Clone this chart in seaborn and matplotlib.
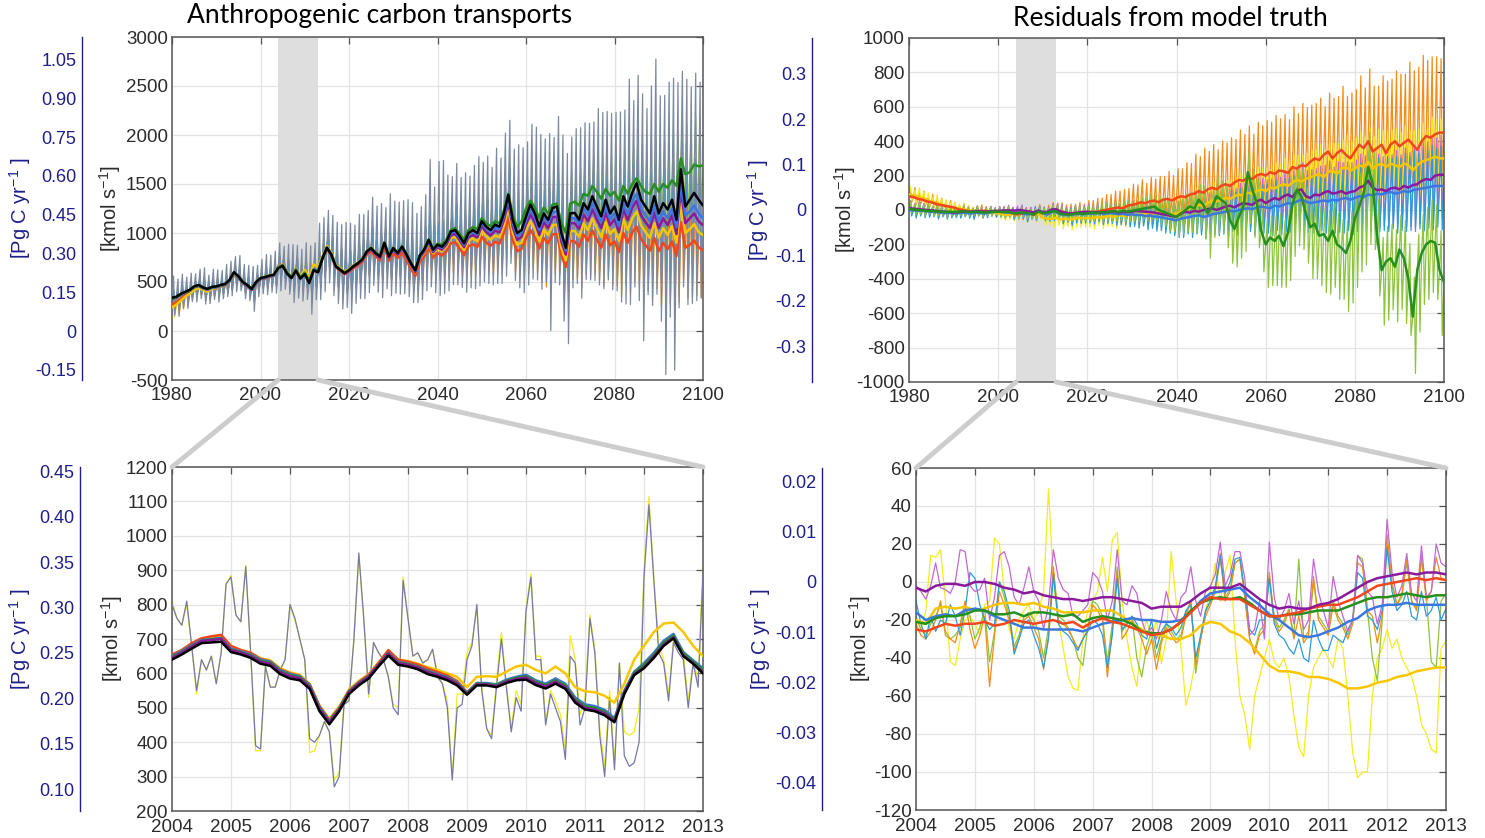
import numpy as np
import matplotlib
matplotlib.use("Agg")
import matplotlib.pyplot as plt
from matplotlib.patches import ConnectionPatch
import seaborn as sns

# ---------------------------------------------------------------- data
years = list(range(1980, 2101))          # annual values, 1980..2100

# Anthropogenic carbon transport [kmol s-1], 12-month smoothed
truth_s = [340, 350, 380, 400, 420, 455, 470, 445, 430, 450,
           455, 470, 480, 520, 600, 560, 500, 470, 430, 500,
           540, 550, 565, 575, 640, 665, 585, 540, 615, 535,
           580, 490, 620, 600, 740, 850, 780, 660, 625, 590,
           620, 660, 690, 730, 810, 845, 795, 760, 900, 760,
           845, 795, 860, 780, 690, 620, 770, 830, 930, 830,
           880, 860, 910, 1015, 1030, 965, 895, 1000, 1030, 1000,
           1120, 1065, 1030, 1085, 1065, 1200, 1390, 1135, 1000, 1030,
           1170, 1290, 1200, 1065, 1200, 1135, 1255, 1270, 1000, 850,
           1200, 1205, 1135, 1305, 1240, 1375, 1270, 1170, 1340, 1200,
           1270, 1135, 1375, 1270, 1410, 1510, 1340, 1270, 1200, 1375,
           1200, 1305, 1240, 1340, 1135, 1650, 1270, 1340, 1410, 1340,
           1280]
green_s = [330, 345, 375, 395, 415, 450, 468, 442, 428, 448,
           452, 468, 478, 518, 596, 558, 498, 468, 428, 498,
           538, 548, 562, 572, 648, 670, 595, 547, 627, 542,
           592, 505, 625, 610, 745, 850, 785, 665, 630, 595,
           625, 665, 695, 735, 815, 850, 800, 765, 905, 765,
           850, 800, 865, 785, 695, 625, 775, 835, 935, 840,
           890, 880, 930, 1030, 1050, 990, 930, 1030, 1060, 1040,
           1150, 1100, 1070, 1120, 1100, 1230, 1400, 1180, 1060, 1120,
           1250, 1330, 1260, 1150, 1260, 1200, 1290, 1300, 1100, 1000,
           1300, 1320, 1280, 1400, 1380, 1480, 1420, 1350, 1450, 1380,
           1420, 1330, 1480, 1400, 1500, 1560, 1480, 1420, 1400, 1500,
           1420, 1500, 1460, 1540, 1480, 1760, 1600, 1620, 1700, 1680,
           1690]
blue_s = [335, 345, 372, 392, 412, 448, 462, 438, 422, 442,
          448, 462, 472, 512, 590, 552, 492, 462, 422, 492,
          532, 545, 560, 570, 650, 672, 598, 548, 628, 544,
          596, 510, 630, 615, 745, 852, 785, 662, 628, 592,
          620, 660, 690, 728, 808, 842, 792, 756, 895, 756,
          838, 790, 852, 772, 682, 612, 760, 822, 920, 820,
          872, 850, 900, 1000, 1015, 950, 880, 985, 1010, 985,
          1100, 1045, 1010, 1060, 1040, 1170, 1350, 1100, 970, 1000,
          1130, 1240, 1160, 1030, 1160, 1100, 1210, 1220, 960, 820,
          1150, 1150, 1090, 1250, 1180, 1300, 1200, 1110, 1270, 1140,
          1200, 1070, 1300, 1190, 1320, 1400, 1250, 1180, 1120, 1280,
          1120, 1220, 1150, 1250, 1060, 1520, 1180, 1220, 1280, 1200,
          1150]
purple_s = [330, 342, 370, 390, 410, 445, 460, 436, 420, 440,
            446, 460, 470, 510, 588, 550, 490, 460, 420, 490,
            530, 542, 558, 568, 645, 668, 592, 545, 625, 540,
            588, 500, 618, 603, 742, 848, 780, 658, 622, 588,
            615, 655, 685, 722, 800, 835, 785, 748, 885, 748,
            830, 780, 842, 762, 672, 602, 748, 810, 905, 805,
            855, 830, 880, 975, 990, 925, 855, 955, 980, 955,
            1070, 1010, 975, 1025, 1005, 1130, 1310, 1060, 930, 960,
            1090, 1190, 1110, 980, 1110, 1050, 1160, 1165, 910, 780,
            1100, 1100, 1040, 1190, 1120, 1240, 1140, 1050, 1210, 1080,
            1140, 1010, 1240, 1130, 1260, 1330, 1180, 1110, 1050, 1210,
            1050, 1150, 1080, 1180, 990, 1440, 1100, 1150, 1200, 1120,
            1080]
yellow_s = [240, 270, 310, 350, 380, 420, 440, 420, 400, 430,
            440, 455, 465, 505, 585, 550, 492, 465, 428, 498,
            540, 552, 568, 578, 652, 678, 603, 553, 636, 560,
            625, 548, 680, 650, 760, 868, 800, 675, 640, 605,
            632, 670, 700, 736, 815, 848, 796, 758, 895, 752,
            832, 782, 842, 760, 668, 598, 742, 800, 892, 792,
            840, 815, 860, 950, 960, 895, 825, 920, 945, 915,
            1025, 965, 930, 975, 955, 1075, 1250, 1005, 880, 905,
            1030, 1120, 1040, 915, 1040, 980, 1080, 1085, 845, 720,
            1020, 1020, 960, 1100, 1030, 1150, 1050, 960, 1110, 990,
            1040, 920, 1140, 1030, 1150, 1220, 1080, 1010, 950, 1100,
            950, 1050, 980, 1070, 900, 1300, 1000, 1040, 1090, 1010,
            980]
orange_s = [270, 290, 330, 365, 395, 430, 450, 428, 410, 436,
            442, 456, 466, 504, 582, 545, 486, 456, 416, 486,
            526, 538, 554, 565, 655, 680, 600, 550, 634, 545,
            594, 508, 622, 604, 738, 842, 775, 652, 615, 580,
            605, 642, 670, 705, 780, 812, 762, 724, 855, 718,
            795, 745, 802, 722, 632, 562, 705, 760, 848, 750,
            795, 770, 812, 895, 905, 842, 775, 865, 885, 858,
            960, 905, 870, 912, 892, 1000, 1160, 930, 815, 838,
            950, 1030, 955, 840, 950, 895, 985, 990, 770, 655,
            920, 915, 860, 985, 920, 1025, 935, 850, 985, 875,
            915, 805, 1000, 900, 1005, 1065, 940, 875, 820, 950,
            815, 900, 835, 915, 765, 1110, 850, 880, 925, 855,
            820]

# seasonal spike excursions of the monthly truth (above / below the smoothed value)
truth_up = [220, 180, 200, 150, 170, 130, 160, 200, 140, 180,
            170, 150, 200, 190, 160, 210, 180, 200, 230, 170,
            190, 230, 210, 240, 260, 200, 300, 340, 260, 300,
            320, 380, 280, 500, 420, 380, 400, 450, 460, 520,
            480, 420, 500, 460, 420, 520, 480, 540, 360, 640,
            480, 520, 470, 560, 620, 580, 500, 560, 820, 640,
            850, 880, 680, 560, 680, 600, 720, 580, 660, 780,
            600, 720, 640, 780, 700, 820, 760, 720, 900, 840,
            760, 820, 880, 940, 760, 880, 720, 920, 1000, 960,
            780, 860, 940, 820, 880, 760, 1000, 1060, 900, 1020,
            960, 1100, 880, 1300, 940, 1100, 1080, 1000, 1300, 1400,
            1200, 1100, 1300, 1240, 1400, 1000, 1300, 1150, 1220, 1200]
truth_down = [180, 200, 150, 170, 120, 160, 140, 170, 150, 130,
              160, 140, 130, 160, 200, 150, 170, 160, 230, 150,
              160, 180, 170, 190, 230, 240, 210, 250, 280, 230,
              260, 320, 300, 280, 340, 360, 420, 380, 400, 350,
              440, 380, 360, 400, 420, 380, 400, 420, 470, 400,
              460, 420, 480, 430, 400, 330, 450, 420, 480, 440,
              520, 480, 500, 540, 560, 520, 500, 560, 600, 540,
              620, 580, 560, 600, 580, 640, 700, 620, 560, 640,
              700, 760, 680, 640, 700, 1130, 760, 800, 900, 980,
              760, 720, 800, 780, 720, 860, 800, 740, 820, 780,
              860, 840, 1100, 1000, 960, 1200, 1440, 900, 940, 1000,
              1100, 1750, 1100, 1740, 900, 1200, 1000, 1060, 1100, 1000]
# seasonal excursions of the reconstructions
recon_up = [90, 70, 100, 60, 80, 60, 70, 90, 60, 80,
            80, 70, 90, 80, 70, 90, 80, 90, 100, 80,
            90, 100, 90, 110, 120, 90, 130, 150, 120, 130,
            140, 160, 120, 200, 180, 160, 170, 190, 200, 220,
            200, 180, 210, 200, 180, 220, 200, 230, 160, 240,
            200, 220, 200, 240, 260, 240, 210, 240, 300, 260,
            240, 260, 280, 240, 280, 250, 300, 240, 280, 320,
            250, 300, 270, 320, 290, 340, 310, 300, 360, 340,
            310, 340, 360, 380, 310, 360, 300, 380, 400, 390,
            320, 350, 380, 340, 360, 310, 400, 420, 370, 410,
            390, 440, 360, 500, 380, 440, 430, 400, 500, 450,
            560, 440, 500, 480, 540, 400, 500, 450, 480, 470]
recon_down = [100, 110, 90, 100, 70, 90, 80, 100, 90, 80,
              90, 80, 80, 90, 110, 90, 100, 90, 120, 90,
              90, 100, 100, 110, 130, 130, 120, 140, 150, 130,
              150, 180, 170, 160, 190, 200, 230, 210, 220, 200,
              240, 210, 200, 220, 230, 210, 220, 230, 260, 220,
              250, 230, 260, 240, 220, 190, 250, 230, 260, 240,
              280, 260, 270, 290, 300, 280, 270, 300, 320, 290,
              330, 310, 300, 320, 310, 340, 370, 330, 300, 340,
              370, 400, 360, 340, 500, 380, 400, 420, 460, 370,
              400, 380, 420, 410, 380, 450, 420, 390, 430, 410,
              450, 440, 520, 520, 500, 600, 640, 470, 490, 520,
              560, 700, 560, 700, 470, 600, 520, 540, 560, 520]

# Residuals from model truth [kmol s-1], 12-month smoothed
res_red = [80, 75, 65, 60, 50, 45, 35, 30, 25, 20,
           15, 5, 0, -5, -10, -10, -5, -5, -10, -10,
           -10, -8, -12, -18, -25, -22, -22, -21, -28, -8,
           -18, -12, -1, 1, -8, -15, -20, -18, -15, -20,
           -15, -10, -12, -5, 0, 5, 10, 15, 10, 25,
           30, 35, 45, 40, 50, 55, 45, 60, 65, 55,
           70, 80, 75, 90, 95, 110, 100, 120, 130, 120,
           140, 150, 140, 160, 175, 170, 190, 180, 200, 210,
           200, 220, 210, 230, 225, 215, 250, 240, 260, 255,
           280, 300, 290, 320, 340, 300, 330, 350, 320, 300,
           340, 380, 360, 400, 340, 360, 380, 330, 380, 400,
           370, 390, 410, 380, 350, 400, 430, 420, 440, 450,
           450]
res_yellow = [90, 85, 80, 70, 60, 50, 45, 35, 25, 20,
              15, 10, 5, 0, -5, -5, -10, -10, -15, -15,
              -20, -25, -30, -25, -20, -15, -11, -15, -27, -21,
              -44, -51, -52, -45, -55, -50, -55, -50, -45, -50,
              -45, -50, -40, -45, -40, -35, -40, -30, -35, -30,
              -25, -30, -20, -25, -15, -20, -10, -15, -20, -25,
              -20, -10, 0, 10, 20, 30, 25, 40, 55, 50,
              60, 70, 65, 80, 90, 85, 100, 95, 110, 120,
              110, 130, 125, 140, 150, 140, 160, 175, 165, 180,
              190, 200, 210, 190, 220, 230, 210, 240, 250, 230,
              240, 260, 250, 280, 240, 260, 270, 250, 270, 260,
              250, 270, 260, 230, 260, 280, 290, 300, 310, 300,
              300]
res_purple = [10, 8, 5, 3, 0, -2, -5, -8, -10, -12,
              -15, -12, -10, -8, -10, -5, -8, -10, -8, -5,
              -5, -3, -2, -3, -3, 0, -5, -9, -14, -3,
              -12, -11, 3, 4, -10, -15, -20, -18, -15, -12,
              -10, -15, -12, -15, -10, -12, -8, -15, -10, -12,
              -10, -5, -8, -10, -12, -15, -20, -25, -30, -35,
              -40, -20, -10, -15, -5, -10, 0, 5, 10, 0,
              10, 20, 25, 15, 30, 40, 35, 30, 50, 60,
              40, 55, 70, 60, 80, 90, 75, 110, 120, 80,
              70, 90, 85, 100, 110, 95, 100, 110, 95, 105,
              110, 130, 140, 170, 130, 115, 120, 110, 125, 130,
              120, 140, 130, 145, 150, 170, 180, 175, 200, 205,
              205]
res_blue = [0, -2, -5, -5, -8, -10, -12, -15, -18, -15,
            -20, -18, -15, -18, -20, -15, -18, -20, -15, -12,
            -10, -12, -15, -15, -16, -14, -24, -24, -20, -6,
            -17, -26, -12, -12, -25, -28, -30, -25, -22, -25,
            -20, -22, -18, -20, -22, -18, -20, -25, -22, -28,
            -25, -30, -28, -35, -32, -38, -40, -45, -50, -55,
            -60, -50, -45, -40, -35, -30, -40, -35, -25, -20,
            -15, -10, -5, -8, 0, 5, 10, 5, 15, 20,
            15, 10, 25, 20, 30, 40, 35, 50, 60, 50,
            40, 45, 50, 55, 50, 60, 55, 65, 70, 60,
            70, 80, 75, 90, 85, 95, 90, 100, 105, 95,
            100, 110, 105, 115, 120, 125, 130, 135, 140, 140,
            140]
res_green = [5, 3, 0, -2, -5, -6, -8, -10, -12, -10,
             -12, -10, -8, -10, -12, -10, -12, -15, -12, -10,
             -10, -12, -10, -15, -21, -15, -16, -19, -27, -9,
             -18, -15, -8, -7, -22, -25, -28, -22, -20, -22,
             -20, -15, -18, -12, -15, -10, -8, -12, -5, -10,
             -5, 0, 5, 10, 15, 20, 0, -10, -20, -30,
             -40, -20, 0, 20, 10, 60, 30, -20, 20, 80,
             60, 40, -60, -110, -40, 20, 220, 120, 40, -120,
             -200, -160, -180, -150, -210, -130, 30, 120, 80, -20,
             -100, -80, -150, -140, -180, -120, -200, -220, -250, -180,
             -50, 20, 100, 250, 150, -150, -350, -300, -280, -330,
             -230, -280, -400, -620, -350, -250, -200, -180, -190, -350,
             -420]
# seasonal excursions of the monthly residuals
res_up = [45, 30, 50, 35, 40, 25, 45, 30, 35, 25,
          30, 20, 35, 25, 20, 30, 20, 25, 30, 20,
          25, 20, 30, 20, 25, 30, 20, 25, 35, 25,
          30, 25, 35, 30, 40, 30, 35, 45, 35, 40,
          45, 40, 50, 45, 55, 45, 60, 50, 55, 65,
          60, 55, 70, 60, 75, 65, 80, 70, 85, 75,
          90, 80, 95, 85, 100, 90, 110, 95, 105, 115,
          110, 100, 120, 110, 125, 115, 130, 120, 140, 125,
          135, 125, 145, 130, 150, 140, 160, 145, 155, 150,
          165, 150, 170, 160, 175, 155, 180, 165, 185, 170,
          180, 195, 175, 200, 185, 210, 190, 205, 195, 215,
          200, 220, 205, 230, 210, 225, 215, 240, 220, 230]
res_down = [35, 45, 30, 40, 35, 30, 40, 25, 35, 30,
            25, 30, 25, 30, 35, 20, 30, 25, 20, 30,
            30, 35, 25, 40, 30, 35, 45, 30, 40, 35,
            45, 40, 50, 45, 55, 45, 60, 50, 55, 50,
            55, 60, 50, 65, 55, 60, 70, 60, 65, 70,
            70, 75, 65, 80, 75, 85, 80, 90, 85, 95,
            100, 110, 95, 120, 105, 115, 125, 110, 120, 130,
            125, 135, 120, 140, 130, 145, 135, 150, 140, 155,
            150, 160, 145, 165, 155, 170, 160, 175, 165, 180,
            175, 185, 170, 190, 180, 195, 185, 200, 190, 205,
            195, 210, 200, 215, 205, 220, 210, 225, 215, 230,
            220, 235, 225, 240, 230, 245, 235, 250, 240, 255]
orange_peak = [40, 55, 35, 50, 30, 45, 35, 40, 30, 35,
               30, 25, 35, 30, 25, 30, 35, 25, 30, 20,
               25, 30, 20, 30, 25, 30, 25, 35, 30, 40,
               35, 40, 45, 40, 50, 45, 55, 50, 60, 55,
               70, 65, 80, 75, 90, 85, 100, 95, 110, 100,
               120, 110, 130, 115, 140, 125, 150, 135, 160, 145,
               170, 160, 200, 180, 230, 200, 260, 220, 250, 230,
               260, 240, 280, 250, 290, 270, 300, 260, 310, 280,
               320, 290, 340, 300, 330, 310, 350, 320, 360, 340,
               330, 320, 360, 280, 340, 350, 330, 370, 340, 380,
               360, 400, 350, 420, 380, 360, 400, 420, 380, 410,
               420, 400, 450, 430, 480, 500, 440, 470, 450, 430]
green_dip = [20, 30, 25, 35, 20, 30, 25, 20, 30, 25,
             25, 20, 30, 25, 20, 25, 30, 20, 25, 20,
             25, 30, 20, 25, 30, 25, 35, 30, 25, 30,
             30, 35, 30, 40, 35, 45, 40, 35, 45, 40,
             45, 50, 40, 55, 50, 60, 55, 50, 65, 60,
             60, 70, 65, 75, 70, 80, 90, 85, 100, 95,
             110, 120, 130, 150, 140, 170, 200, 260, 180, 220,
             200, 260, 250, 220, 240, 260, 300, 280, 260, 240,
             250, 280, 260, 300, 240, 280, 300, 330, 310, 290,
             300, 320, 290, 340, 310, 330, 320, 300, 340, 360,
             400, 380, 420, 450, 380, 350, 320, 340, 300, 320,
             350, 380, 330, 330, 360, 300, 320, 300, 330, 380]

# 2004-2013 detail, monthly (Jan 2004 .. Jan 2013)
months = [2004 + m / 12 for m in range(109)]
bimonths = [2004 + m / 6 for m in range(55)]

zoom_thin = [800, 760, 740, 810, 680, 550, 640, 610, 650, 570, 660, 860,
             880, 770, 750, 910, 660, 390, 380, 620, 560, 560, 610, 640,
             800, 760, 700, 640, 410, 400, 420, 460, 430, 270, 300, 510,
             520, 700, 950, 760, 540, 690, 660, 640, 590, 500, 480, 870,
             760, 650, 660, 630, 640, 670, 590, 570, 500, 290, 500, 510,
             640, 680, 800, 550, 440, 410, 560, 700, 560, 430, 530, 490,
             780, 880, 640, 640, 450, 540, 500, 460, 350, 650, 630, 450,
             500, 760, 660, 420, 300, 530, 320, 630, 360, 330, 340, 400,
             880, 1090, 870, 660, 630, 520, 690, 660, 640, 500, 630, 560,
             890]
zoom_thin_yellow = [810, 760, 740, 800, 680, 540, 640, 610, 650, 570, 660, 860,
                    885, 770, 750, 915, 660, 375, 375, 620, 560, 560, 610, 640,
                    800, 755, 700, 640, 370, 375, 420, 460, 430, 290, 310, 520,
                    520, 700, 940, 760, 530, 690, 660, 640, 590, 510, 500, 880,
                    760, 650, 660, 630, 640, 670, 600, 570, 520, 300, 540, 540,
                    660, 690, 790, 560, 440, 420, 580, 720, 570, 440, 550, 510,
                    790, 890, 650, 650, 460, 550, 520, 480, 380, 710, 640, 480,
                    530, 770, 670, 440, 330, 550, 340, 630, 430, 420, 430, 500,
                    900, 1115, 880, 680, 640, 540, 700, 680, 660, 520, 640, 580,
                    920]
zoom_black = [640, 655, 672, 688, 690, 692, 662, 655, 645, 628, 622, 598,
              585, 580, 555, 490, 452, 490, 540, 565, 585, 620, 652, 625,
              620, 612, 598, 590, 580, 565, 538, 565, 565, 560, 572, 580,
              582, 566, 556, 570, 555, 515, 495, 490, 478, 458, 540, 595,
              615, 645, 680, 702, 650, 628, 600]
zoom_red = [655, 668, 688, 702, 708, 712, 680, 668, 660, 642, 635, 612,
            600, 592, 568, 505, 465, 500, 550, 575, 596, 630, 668, 640,
            634, 626, 614, 604, 594, 578, 545, 572, 570, 565, 580, 588,
            594, 578, 568, 585, 568, 528, 508, 502, 490, 468, 548, 600,
            622, 652, 688, 708, 655, 632, 604]
zoom_blue = [650, 665, 682, 697, 700, 703, 672, 664, 655, 640, 634, 610,
             598, 592, 566, 502, 462, 498, 548, 573, 592, 626, 660, 634,
             628, 620, 608, 598, 590, 574, 544, 572, 572, 568, 582, 590,
             596, 580, 570, 585, 570, 530, 510, 505, 494, 470, 550, 605,
             630, 660, 695, 715, 662, 638, 615]
zoom_purple = [645, 660, 678, 694, 697, 700, 668, 660, 650, 634, 628, 604,
               592, 586, 560, 496, 458, 494, 545, 570, 590, 624, 658, 630,
               625, 617, 604, 595, 586, 570, 540, 568, 568, 563, 576, 584,
               588, 572, 562, 576, 560, 520, 500, 495, 484, 462, 544, 598,
               618, 650, 684, 705, 652, 630, 603]
zoom_green = [648, 662, 680, 695, 699, 701, 670, 662, 652, 637, 631, 607,
              595, 589, 563, 499, 460, 496, 547, 571, 591, 625, 659, 632,
              627, 619, 606, 596, 588, 572, 542, 570, 570, 566, 579, 587,
              592, 576, 566, 580, 565, 525, 505, 500, 489, 466, 546, 602,
              625, 655, 690, 710, 658, 634, 610]
zoom_yellow = [652, 668, 686, 700, 705, 708, 678, 668, 660, 644, 638, 615,
               603, 596, 570, 506, 468, 504, 553, 578, 598, 632, 666, 640,
               636, 628, 618, 610, 600, 590, 560, 590, 592, 590, 605, 620,
               625, 610, 600, 620, 600, 560, 548, 545, 535, 515, 570, 640,
               680, 720, 745, 748, 720, 680, 650]

# residuals 2004-2013: thin = monthly, thick = smoothed (bi-monthly samples)
rz_purple_thin = [-2, -5, -9, -2, 10, -3, -4, -6, 0, 17, 16, -2,
                  -5, -4, 2, -20, -8, 14, 16, 8, -8, -12, -3, 8,
                  -5, -10, -25, -12, 17, 2, -4, -6, -18, -18, -15, -12,
                  5, 2, -5, -20, -10, 17, -10, -12, -2, -6, -20, -28,
                  -24, -30, -20, -5, -15, -20, -8, -5, 8, -10, -18, -5,
                  -2, 4, 21, -2, 4, 16, 16, 2, -28, -25, -10, -30,
                  21, -8, -20, -15, -6, -22, -10, -25, -20, 12, -5, -15,
                  -24, 3, -10, -18, -26, -20, 14, 10, -5, -8, -22, -12,
                  33, 5, -8, -2, 15, -6, -10, 19, -8, -5, 20, 10,
                  8]
rz_orange_thin = [-22, -28, -30, -26, -20, -10, -28, -30, -32, -22, -10, -25,
                  -35, -28, -18, -55, -28, -5, -12, -20, -36, -30, -20, -18,
                  -24, -30, -46, -28, 8, -20, -22, -25, -30, -35, -30, -25,
                  -12, -15, -20, -50, -25, 6, -30, -26, -20, -24, -30, -38,
                  -30, -46, -32, -24, -28, -32, -30, -18, -10, -44, -30, -18,
                  -12, -5, 15, -10, -5, 10, 12, -8, -30, -38, -28, -25,
                  5, -20, -26, -22, -15, -30, -18, -32, -28, 3, -20, -24,
                  -28, -12, -20, -24, -30, -22, 10, 8, -15, -18, -32, -18,
                  25, 0, -12, -6, 12, -10, -15, 14, -10, -5, 13, 2,
                  1]
rz_blue_thin = [-10, -22, -30, -18, -26, -20, -22, -12, -18, -28, -15, 5,
                2, -12, -20, -25, -22, 0, -5, -15, -38, -30, -22, -20,
                -28, -35, -45, -30, 4, -22, -26, -28, -32, -36, -30, -26,
                -20, -22, -28, -45, -28, 2, -25, -22, -18, -22, -28, -30,
                -20, -35, -26, -22, -24, -28, -24, -15, -12, -40, -28, -15,
                -10, -2, 14, -6, 0, 12, 13, -5, -25, -28, -20, -20,
                2, -22, -28, -30, -35, -38, -30, -40, -42, -20, -30, -36,
                -36, -28, -30, -32, -25, -20, 5, 2, -18, -20, -25, -15,
                18, -5, -15, -12, -5, -18, -20, -5, -18, -15, -8, -20,
                -14]
rz_green_thin = [-18, -25, -28, -22, -18, -12, -26, -30, -28, -24, -14, -18,
                 -30, -24, -14, -42, -26, 0, -8, -18, -34, -28, -18, -16,
                 -20, -26, -40, -24, 5, -18, -20, -24, -30, -40, -44, -24,
                 -10, -12, -18, -42, -22, 8, -26, -22, -18, -40, -50, -34,
                 -26, -40, -30, -22, -26, -30, -28, -16, -10, -48, -30, -16,
                 -10, -4, 12, -8, -4, 10, 12, -8, -30, -36, -26, -22,
                 2, -18, -24, -20, -14, -28, 12, -30, -26, 0, -18, -22,
                 -26, -10, -18, -22, -28, -20, 14, 12, -15, -40, -52, -20,
                 20, -2, -12, -8, 10, -10, -14, 12, -8, -42, -45, -10,
                 -6]
rz_yellow_thin = [-20, -25, -15, 14, 13, 17, -10, -42, -44, -30, -20, -18,
                  -22, -28, -12, -10, 23, 20, -5, -25, -30, -20, -15, -12,
                  -20, -15, -5, 49, 0, -20, -35, -50, -56, -57, -30, -15,
                  -10, -5, 13, -5, 22, 26, -10, -30, -45, -55, -30, -20,
                  -30, -20, -43, -30, 16, -10, -35, -65, -55, -40, -30, -15,
                  -5, 10, -10, 5, 14, -30, -60, -70, -88, -60, -50, -40,
                  -30, -42, -45, -40, -50, -70, -87, -92, -60, -45, -40, -35,
                  -40, -45, -30, -35, -60, -90, -103, -100, -100, -60, -40, -35,
                  -25, -35, -30, -40, -45, -50, -60, -75, -80, -88, -90, -35,
                  -31]
rz_purple = [-3, -5, -2, -1, -1, -2, 0, 0, -1, -3, -4, -6,
             -5, -7, -8, -9, -9, -10, -9, -8, -8, -9, -10, -11,
             -14, -13, -13, -13, -10, -6, -3, -3, -3, -1, -5, -9,
             -12, -14, -13, -14, -14, -12, -11, -9, -6, -3, 0, 2,
             3, 4, 5, 4, 5, 5, 4]
rz_red = [-25, -26, -24, -22, -23, -22, -22, -21, -23, -22, -20, -21,
          -22, -21, -20, -22, -21, -24, -21, -19, -21, -22, -24, -26,
          -28, -27, -25, -21, -16, -11, -8, -9, -9, -9, -12, -15,
          -18, -18, -17, -16, -14, -13, -12, -12, -10, -8, -5, -2,
          -1, 0, 1, 2, 1, 2, 1]
rz_green = [-21, -22, -19, -18, -18, -17, -15, -15, -17, -17, -16, -18,
            -16, -16, -17, -18, -17, -21, -19, -18, -19, -20, -22, -26,
            -27, -27, -25, -21, -15, -11, -9, -8, -9, -8, -11, -15,
            -18, -18, -17, -17, -16, -15, -15, -15, -13, -11, -9, -8,
            -8, -7, -6, -7, -8, -7, -7]
rz_blue = [-16, -20, -18, -17, -18, -15, -14, -15, -18, -20, -22, -24,
           -24, -25, -25, -25, -25, -26, -24, -22, -21, -20, -19, -20,
           -20, -21, -21, -20, -16, -10, -6, -5, -4, -3, -8, -12,
           -17, -20, -24, -28, -29, -28, -26, -24, -21, -19, -15, -13,
           -12, -12, -11, -12, -12, -12, -12]
rz_yellow = [-20, -22, -14, -13, -14, -13, -15, -14, -12, -11, -11, -12,
             -11, -13, -14, -16, -16, -16, -15, -15, -15, -18, -22, -25,
             -27, -28, -30, -30, -28, -23, -21, -22, -26, -28, -32, -38,
             -44, -47, -47, -48, -50, -50, -51, -53, -56, -56, -55, -53,
             -52, -50, -49, -47, -46, -45, -45]

# kmol s-1 -> Pg C yr-1
KMOL_TO_PGC = 1e3 * 12.011 * 3.15576e7 / 1e15

# ---------------------------------------------------------------- style
sns.set_theme(style="white")
plt.rcParams["font.family"] = ["Liberation Sans", "DejaVu Sans"]
plt.rcParams["mathtext.fontset"] = "custom"
plt.rcParams["mathtext.rm"] = "Liberation Sans"
plt.rcParams["mathtext.it"] = "Liberation Sans:italic"
plt.rcParams["axes.unicode_minus"] = False

NAVY = "#1f1f8a"
TXT = "#2b2b2b"
C = dict(black="#000000", gray="#7b8aa0", red="#f2461c", orange="#f28c1a",
         gold="#f7c600", lemon="#f3ec1e", purple="#8a1a9b", magenta="#c467d4",
         blue="#3a78e0", cyan="#2a9dd8", green="#25901e", lime="#8cc43c")

W, H = 1485, 838
fig = plt.figure(figsize=(W / 100, H / 100), dpi=100, facecolor="white")


def px_axes(left, right, top, bottom):
    return fig.add_axes([left / W, 1 - bottom / H, (right - left) / W, (bottom - top) / H])


def line(ax, x, y, color, lw, z):
    sns.lineplot(x=np.asarray(x, float), y=np.asarray(y, float), ax=ax, color=color,
                 linewidth=lw, zorder=z, estimator=None, sort=False, legend=False)


def seasonal(base, up, down):
    xs, ys = [], []
    for i in range(len(years) - 1):
        xs += [years[i], years[i] + 0.35, years[i] + 0.6]
        ys += [base[i], base[i] + up[i], base[i] - down[i]]
    xs.append(years[-1])
    ys.append(base[-1])
    return xs, ys


def style_main(ax, xlim, ylim, xticks, yticks, xpad):
    ax.set_xlim(*xlim)
    ax.set_ylim(*ylim)
    ax.set_xticks(xticks)
    ax.set_yticks(yticks)
    ax.set_xticklabels([str(int(t)) for t in xticks])
    ax.set_yticklabels([str(int(t)) for t in yticks])
    ax.set_xlabel("")
    ax.set_ylabel("")
    ax.grid(True, color="#e3e3e3", lw=0.9, zorder=0)
    ax.set_axisbelow(True)
    for s in ax.spines.values():
        s.set_visible(True)
        s.set_color("#555555")
        s.set_linewidth(1.1)
    ax.tick_params(direction="in", top=True, right=True, length=5, width=0.9,
                   color="#555555", labelsize=13.5, labelcolor=TXT, pad=3)
    ax.tick_params(axis="x", pad=xpad)


def pg_axis(ax, xpix, ticks, fmt):
    pos = ax.get_position()
    sec = fig.add_axes([xpix / W, pos.y0, 0.0005, pos.height])
    lo, hi = ax.get_ylim()
    sec.set_ylim(lo * KMOL_TO_PGC, hi * KMOL_TO_PGC)
    sec.patch.set_visible(False)
    for k in ("top", "right", "bottom"):
        sec.spines[k].set_visible(False)
    sec.spines["left"].set_color(NAVY)
    sec.spines["left"].set_linewidth(1.0)
    sec.set_xticks([])
    sec.set_yticks(ticks)
    sec.set_yticklabels(["0" if abs(t) < 1e-9 else fmt % t for t in ticks])
    sec.set_yticks([lo * KMOL_TO_PGC, hi * KMOL_TO_PGC], minor=True)
    sec.tick_params(axis="y", which="both", direction="in", length=5, width=1.0,
                    color=NAVY, labelcolor=NAVY, labelsize=13, pad=4)
    sec.grid(False)
    return sec


def labels(ax, x_kmol, x_pg):
    pos = ax.get_position()
    yc = pos.y0 + pos.height / 2
    fig.text(x_kmol / W, yc, r"[kmol s$^{-1}$]", rotation=90, ha="center", va="center",
             fontsize=14.5, color=TXT)
    fig.text(x_pg / W, yc, r"[Pg C yr$^{-1}$ ]", rotation=90, ha="center", va="center",
             fontsize=14.5, color=NAVY)


# ---------------------------------------------------------------- top left
ax1 = px_axes(172, 703, 37, 380)
ax1.axvspan(2004, 2013, color="#dedede", lw=0, zorder=1)
for base, col in [(green_s, C["lime"]), (yellow_s, C["lemon"]), (orange_s, C["orange"]),
                  (purple_s, C["magenta"]), (blue_s, C["cyan"])]:
    xs, ys = seasonal(base, recon_up, recon_down)
    line(ax1, xs, ys, col, 0.9, 2)
xs, ys = seasonal(truth_s, truth_up, truth_down)
line(ax1, xs, ys, C["gray"], 0.9, 3)
for base, col in [(orange_s, C["red"]), (yellow_s, C["gold"]), (purple_s, C["purple"]),
                  (blue_s, C["blue"]), (green_s, C["green"]), (truth_s, C["black"])]:
    line(ax1, years, base, col, 1.8, 4)
style_main(ax1, (1980, 2100), (-500, 3000), range(1980, 2101, 20), range(-500, 3001, 500), 5)
fig.text(380 / W, 1 - 15 / H, "Anthropogenic carbon transports", fontfamily="Lato",
         fontsize=19, color="black", ha="center", va="center")
pg_axis(ax1, 82, np.round(np.arange(-0.15, 1.06, 0.15), 2), "%.2f")
labels(ax1, 110, 20)

# ---------------------------------------------------------------- top right
ax2 = px_axes(909, 1444, 38, 382)
ax2.axvspan(2004, 2013, color="#dedede", lw=0, zorder=1)
for base, up, down, col in [(res_red, orange_peak, res_down, C["orange"]),
                            (res_yellow, res_up, res_down, C["lemon"]),
                            (res_purple, res_up, res_down, C["magenta"]),
                            (res_blue, res_up, res_down, C["cyan"]),
                            (res_green, res_up, green_dip, C["lime"])]:
    xs, ys = seasonal(base, up, down)
    line(ax2, xs, ys, col, 0.9, 2)
for base, col in [(res_yellow, C["gold"]), (res_red, C["red"]), (res_blue, C["blue"]),
                  (res_purple, C["purple"]), (res_green, C["green"])]:
    line(ax2, years, base, col, 1.8, 4)
style_main(ax2, (1980, 2100), (-1000, 1000), range(1980, 2101, 20), range(-1000, 1001, 200), 5)
fig.text(1170 / W, 1 - 18 / H, "Residuals from model truth", fontfamily="Lato",
         fontsize=19, color="black", ha="center", va="center")
pg_axis(ax2, 812, np.round(np.arange(-0.3, 0.31, 0.1), 1), "%.1f")
labels(ax2, 845, 758)

# ---------------------------------------------------------------- bottom left
ax3 = px_axes(172, 703, 467, 811)
line(ax3, months, zoom_thin_yellow, C["lemon"], 0.9, 2)
line(ax3, months, zoom_thin, "#7479aa", 0.9, 3)
for ys, col in [(zoom_yellow, C["gold"]), (zoom_red, C["red"]), (zoom_blue, C["blue"]),
                (zoom_green, C["green"]), (zoom_purple, C["purple"]), (zoom_black, C["black"])]:
    line(ax3, bimonths, ys, col, 1.8, 4)
style_main(ax3, (2004, 2013), (200, 1200), range(2004, 2014), range(200, 1201, 100), 6)
pg_axis(ax3, 80, np.round(np.arange(0.10, 0.451, 0.05), 2), "%.2f")
labels(ax3, 112, 20)

# ---------------------------------------------------------------- bottom right
ax4 = px_axes(916, 1446, 468, 810)
for ys, col in [(rz_yellow_thin, C["lemon"]), (rz_green_thin, C["lime"]),
                (rz_orange_thin, C["orange"]), (rz_blue_thin, C["cyan"]),
                (rz_purple_thin, C["magenta"])]:
    line(ax4, months, ys, col, 0.9, 2)
for ys, col in [(rz_yellow, C["gold"]), (rz_blue, C["blue"]), (rz_green, C["green"]),
                (rz_red, C["red"]), (rz_purple, C["purple"])]:
    line(ax4, bimonths, ys, col, 1.8, 4)
style_main(ax4, (2004, 2013), (-120, 60), range(2004, 2014), range(-120, 61, 20), 6)
pg_axis(ax4, 822, np.round(np.arange(-0.04, 0.021, 0.01), 2), "%.2f")
labels(ax4, 860, 760)

# ---------------------------------------------------------------- zoom connectors
for top, bot in [(ax1, ax3), (ax2, ax4)]:
    y_bottom = top.get_ylim()[0]
    y_top = bot.get_ylim()[1]
    for xv in (2004, 2013):
        con = ConnectionPatch(xyA=(xv, y_bottom), coordsA=top.transData,
                              xyB=(xv, y_top), coordsB=bot.transData,
                              color="#cdcdcd", lw=3.5, zorder=10)
        fig.add_artist(con)

fig.savefig("out.png", dpi=100, facecolor="white")
